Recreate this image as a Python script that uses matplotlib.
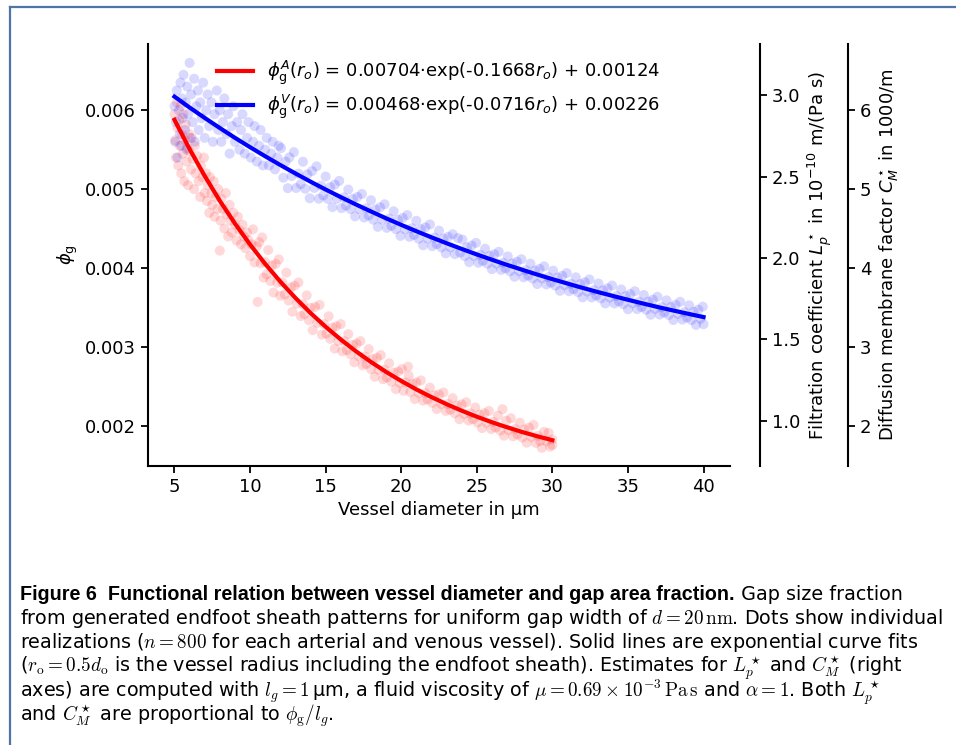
import matplotlib
matplotlib.use("Agg")
import matplotlib.pyplot as plt
from matplotlib.lines import Line2D
import numpy as np

# fitted curves
fit_a_d = list(range(5, 31))
fit_a_phi = [0.005879, 0.005508, 0.005167, 0.004852, 0.004564, 0.004298, 0.004053,
             0.003828, 0.003621, 0.003430, 0.003255, 0.003094, 0.002945, 0.002809,
             0.002683, 0.002568, 0.002461, 0.002364, 0.002274, 0.002191, 0.002115,
             0.002045, 0.001981, 0.001921, 0.001867, 0.001817]
fit_v_d = list(range(5, 41))
fit_v_phi = [0.006173, 0.006035, 0.005903, 0.005775, 0.005651, 0.005532, 0.005417,
             0.005306, 0.005199, 0.005095, 0.004995, 0.004899, 0.004806, 0.004717,
             0.004630, 0.004547, 0.004467, 0.004389, 0.004314, 0.004242, 0.004172,
             0.004105, 0.004040, 0.003978, 0.003917, 0.003859, 0.003803, 0.003748,
             0.003696, 0.003646, 0.003597, 0.003550, 0.003504, 0.003461, 0.003419,
             0.003378]

# individual realizations (approximate, read from the dot clouds); phi in units of 1e-6
art_d = [5.0, 5.05, 5.1, 5.15, 5.2, 5.25, 5.3, 5.35, 5.4, 5.45,
         5.5, 5.55, 5.6, 5.65, 5.7, 5.75, 5.8, 5.85, 5.9, 5.95,
         6.0, 6.1, 6.15, 6.2, 6.3, 6.35, 6.4, 6.5, 6.6, 6.7,
         6.75, 6.85, 6.95, 7.0, 7.1, 7.15, 7.2, 7.3, 7.35, 7.45,
         7.5, 7.6, 7.65, 7.75, 7.85, 7.9, 8.0, 8.05, 8.1, 8.2,
         8.3, 8.4, 8.45, 8.55, 8.65, 8.7, 8.8, 8.9, 9.0, 9.1,
         9.2, 9.3, 9.4, 9.5, 9.6, 9.7, 9.8, 9.9, 10.0, 10.1,
         10.2, 10.3, 10.45, 10.5, 10.6, 10.7, 10.8, 10.9, 11.0, 11.1,
         11.2, 11.35, 11.45, 11.55, 11.7, 11.8, 11.9, 12.0, 12.15, 12.3,
         12.4, 12.55, 12.7, 12.8, 12.95, 13.1, 13.2, 13.35, 13.5, 13.6,
         13.75, 13.9, 14.0, 14.15, 14.3, 14.45, 14.6, 14.75, 14.9, 15.05,
         15.2, 15.3, 15.45, 15.6, 15.7, 15.85, 16.0, 16.1, 16.25, 16.4,
         16.5, 16.65, 16.8, 16.9, 17.05, 17.2, 17.3, 17.45, 17.6, 17.7,
         17.85, 18.0, 18.1, 18.25, 18.4, 18.5, 18.65, 18.8, 18.9, 19.05,
         19.2, 19.35, 19.5, 19.65, 19.8, 19.9, 20.05, 20.15, 20.3, 20.45,
         20.5, 20.6, 20.75, 20.9, 21.0, 21.15, 21.3, 21.45, 21.6, 21.75,
         21.9, 22.05, 22.2, 22.35, 22.5, 22.65, 22.8, 22.95, 23.1, 23.25,
         23.4, 23.55, 23.7, 23.85, 24.0, 24.15, 24.3, 24.45, 24.6, 24.75,
         24.9, 25.05, 25.2, 25.35, 25.5, 25.65, 25.8, 25.95, 26.1, 26.25,
         26.4, 26.55, 26.7, 26.8, 26.95, 27.1, 27.25, 27.4, 27.55, 27.7,
         27.85, 28.0, 28.15, 28.3, 28.45, 28.6, 28.75, 28.9, 29.05, 29.2,
         29.3, 29.45, 29.6, 29.75, 29.85, 30.0, 30.0]
art_phi_e6 = [5950, 5620, 5400, 6100, 5780, 5300, 5880, 5550, 6050, 5200,
              5700, 5450, 5950, 5100, 5620, 5820, 5350, 5520, 5050, 5700,
              5480, 5250, 5650, 5380, 5000, 5550, 5200, 5420, 5100, 4900,
              5300, 5150, 5400, 4950, 5200, 4850, 5050, 4700, 5150, 4950,
              4800, 5100, 4650, 4900, 4750, 5000, 4220, 4600, 4880, 4750,
              4500, 4950, 4680, 4400, 4800, 4600, 4450, 4700, 4550, 4350,
              4650, 4480, 4300, 4550, 4400, 4250, 4450, 4350, 4150, 4300,
              4491, 4070, 4275, 3570, 4327, 4060, 4388, 3879, 4075, 3921,
              4228, 3835, 4032, 3690, 4053, 3813, 4110, 3648, 3817, 3666,
              3941, 3587, 3754, 3446, 3775, 3548, 3817, 3391, 3541, 3414,
              3653, 3337, 3494, 3212, 3506, 3304, 3533, 3155, 3289, 3167,
              3388, 3102, 3243, 2979, 3262, 3073, 3289, 2944, 3072, 2959,
              3162, 2905, 3026, 2804, 3042, 2878, 3073, 2766, 2876, 2784,
              2972, 2718, 2848, 2621, 2862, 2707, 2896, 2591, 2709, 2612,
              2792, 2559, 2674, 2465, 2687, 2544, 2719, 2444, 2548, 2750,
              2634, 2426, 2531, 2339, 2549, 2413, 2575, 2318, 2414, 2333,
              2484, 2290, 2386, 2212, 2398, 2275, 2422, 2188, 2276, 2203,
              2350, 2158, 2256, 2083, 2271, 2149, 2298, 2066, 2155, 2083,
              2232, 2041, 2141, 1970, 2159, 2038, 2188, 1958, 2048, 1978,
              2128, 1939, 2210, 1874, 2064, 1945, 2096, 1867, 1958, 1889,
              2040, 1851, 1953, 1785, 1977, 1859, 2011, 1783, 1874, 1806,
              1720, 1923, 1807, 1910, 1736, 1827, 1757]

ven_d = [5.0, 5.05, 5.1, 5.15, 5.2, 5.3, 5.35, 5.4, 5.45, 5.5,
         5.55, 5.6, 5.7, 5.75, 5.8, 5.85, 5.9, 6.0, 6.05, 6.1,
         6.2, 6.3, 6.35, 6.45, 6.55, 6.6, 6.7, 6.8, 6.9, 7.0,
         7.1, 7.2, 7.3, 7.45, 7.55, 7.65, 7.8, 7.9, 8.0, 8.1,
         8.2, 8.3, 8.45, 8.55, 8.65, 8.8, 8.9, 9.0, 9.15, 9.3,
         9.4, 9.5, 9.65, 9.8, 9.9, 10.05, 10.2, 10.3, 10.45, 10.6,
         10.7, 10.85, 11.0, 11.1, 11.25, 11.4, 11.5, 11.65, 11.8, 11.9,
         12.05, 12.2, 12.35, 12.5, 12.6, 12.75, 12.9, 13.05, 13.2, 13.35,
         13.5, 13.65, 13.8, 13.95, 14.1, 14.25, 14.4, 14.55, 14.7, 14.85,
         15.0, 15.15, 15.3, 15.45, 15.6, 15.75, 15.9, 16.05, 16.2, 16.35,
         16.5, 16.65, 16.8, 16.95, 17.1, 17.25, 17.4, 17.55, 17.7, 17.85,
         18.0, 18.15, 18.3, 18.45, 18.6, 18.75, 18.9, 19.05, 19.2, 19.35,
         19.5, 19.65, 19.8, 19.95, 20.1, 20.25, 20.4, 20.55, 20.7, 20.85,
         21.0, 21.15, 21.3, 21.45, 21.6, 21.75, 21.9, 22.05, 22.2, 22.35,
         22.5, 22.65, 22.8, 22.95, 23.1, 23.25, 23.4, 23.55, 23.75, 23.9,
         24.05, 24.2, 24.35, 24.5, 24.65, 24.8, 24.95, 25.1, 25.25, 25.4,
         25.55, 25.7, 25.85, 26.0, 26.15, 26.3, 26.45, 26.6, 26.75, 26.9,
         27.05, 27.2, 27.35, 27.5, 27.65, 27.8, 27.95, 28.1, 28.25, 28.4,
         28.55, 28.7, 28.85, 29.0, 29.15, 29.3, 29.45, 29.6, 29.75, 29.9,
         30.05, 30.2, 30.35, 30.5, 30.65, 30.8, 30.95, 31.1, 31.25, 31.4,
         31.55, 31.7, 31.85, 32.0, 32.15, 32.3, 32.45, 32.6, 32.75, 32.9,
         33.05, 33.2, 33.35, 33.5, 33.65, 33.8, 33.95, 34.1, 34.25, 34.4,
         34.55, 34.7, 34.85, 35.0, 35.15, 35.3, 35.45, 35.6, 35.75, 35.9,
         36.05, 36.2, 36.35, 36.5, 36.65, 36.8, 36.95, 37.1, 37.25, 37.4,
         37.55, 37.7, 37.85, 38.0, 38.15, 38.3, 38.45, 38.6, 38.75, 38.9,
         39.05, 39.2, 39.35, 39.5, 39.65, 39.8, 39.95, 40.0]
ven_phi_e6 = [6050, 5600, 5850, 6250, 5400, 6000, 5700, 6350, 5550, 6150,
              5900, 6450, 5750, 6100, 5500, 6300, 5950, 6600, 5650, 6200,
              5850, 6400, 5600, 6050, 6250, 5750, 6100, 5900, 6350, 5650,
              6000, 6200, 5800, 6100, 5600, 5950, 6250, 5750, 6000, 5600,
              5850, 6150, 5700, 5950, 5450, 5800, 6050, 5600, 5850, 5500,
              5750, 5950, 5450, 5650, 5850, 5400, 5600, 5800, 5350, 5550,
              5750, 5300, 5500, 5650, 5300, 5450, 5600, 5250, 5400, 5550,
              5521, 5145, 5349, 5012, 5402, 5166, 5470, 5014, 5198, 5063,
              5347, 5005, 5188, 4884, 5229, 5016, 5289, 4878, 5043, 4920,
              5160, 4876, 5026, 4772, 5057, 4878, 5104, 4759, 4895, 4791,
              4995, 4747, 4876, 4655, 4901, 4745, 4939, 4640, 4757, 4666,
              4860, 4613, 4743, 4522, 4769, 4613, 4808, 4509, 4626, 4535,
              4720, 4492, 4611, 4407, 4635, 4491, 4671, 4395, 4503, 4419,
              4599, 4371, 4492, 4288, 4516, 4373, 4553, 4277, 4386, 4303,
              4473, 4263, 4373, 4186, 4395, 4263, 4428, 4176, 4380, 4195,
              4360, 4151, 4262, 4075, 4285, 4153, 4319, 4066, 4166, 4090,
              4245, 4055, 4155, 3985, 4175, 4055, 4205, 3976, 4066, 3996,
              4147, 3958, 4058, 3889, 4080, 3960, 4111, 3882, 3973, 3904,
              4055, 3866, 3967, 3797, 3989, 3870, 4021, 3792, 3884, 3815,
              3966, 3778, 3879, 3711, 3902, 3784, 3936, 3707, 3799, 3731,
              3882, 3694, 3796, 3628, 3820, 3702, 3855, 3627, 3719, 3651,
              3803, 3616, 3718, 3551, 3743, 3626, 3778, 3551, 3644, 3576,
              3729, 3542, 3644, 3477, 3670, 3553, 3706, 3479, 3572, 3505,
              3658, 3471, 3574, 3407, 3600, 3483, 3636, 3410, 3503, 3437,
              3590, 3404, 3507, 3341, 3535, 3418, 3572, 3346, 3440, 3373,
              3527, 3341, 3445, 3279, 3472, 3356, 3510, 3288]

label_a = r'$\phi_\mathrm{g}^A(r_o)$ = 0.00704·exp(-0.1668$r_o$) + 0.00124'
label_v = r'$\phi_\mathrm{g}^V(r_o)$ = 0.00468·exp(-0.0716$r_o$) + 0.00226'

lp_scale = 484.7    # L_p* (1e-10 m/(Pa s)) per unit phi_g
cm_scale = 1000.0   # C_M* (1000/m) per unit phi_g

fig = plt.figure(figsize=(9.56, 7.45), dpi=100)
ax = fig.add_axes([148 / 956, 1 - 466 / 745, 582 / 956, 422 / 745])

ax.scatter(art_d, np.array(art_phi_e6) * 1e-6, s=52, color='red', alpha=0.15,
           edgecolors='none')
ax.scatter(ven_d, np.array(ven_phi_e6) * 1e-6, s=52, color='blue', alpha=0.15,
           edgecolors='none')
ax.plot(fit_a_d, fit_a_phi, color='red', lw=3, label=label_a)
ax.plot(fit_v_d, fit_v_phi, color='blue', lw=3, label=label_v)

ylo, yhi = 0.00149, 0.00684
ax.set_xlim(3.25, 41.75)
ax.set_ylim(ylo, yhi)
ax.set_xticks([5, 10, 15, 20, 25, 30, 35, 40])
ax.set_yticks([0.002, 0.003, 0.004, 0.005, 0.006])
ax.set_xlabel('Vessel diameter in µm', fontsize=13, labelpad=4)
ax.set_ylabel(r'$\phi_\mathrm{g}$', fontsize=13, labelpad=4)
ax.tick_params(labelsize=13, width=1.3, length=5)
for s in ['top', 'right']:
    ax.spines[s].set_visible(False)
for s in ['left', 'bottom']:
    ax.spines[s].set_linewidth(1.5)

ax.legend(loc='upper center', bbox_to_anchor=(0.499, 1.003), frameon=False,
          fontsize=13, handlelength=2.0, labelspacing=0.3)

# right axes: filtration coefficient and diffusion membrane factor
ax2 = ax.twinx()
ax2.set_ylim(ylo * lp_scale, yhi * lp_scale)
ax2.set_yticks([1.0, 1.5, 2.0, 2.5, 3.0])
ax2.spines['right'].set_position(('outward', 21.6))
ax2.set_ylabel(r'Filtration coefficient $L_p^\star$ in $10^{-10}$ m/(Pa s)', fontsize=13)

ax3 = ax.twinx()
ax3.set_ylim(ylo * cm_scale, yhi * cm_scale)
ax3.set_yticks([2, 3, 4, 5, 6])
ax3.spines['right'].set_position(('outward', 85))
ax3.set_ylabel(r'Diffusion membrane factor $C_M^\star$ in 1000/m', fontsize=13)

for a in (ax2, ax3):
    for s in ['top', 'left', 'bottom']:
        a.spines[s].set_visible(False)
    a.spines['right'].set_linewidth(1.5)
    a.tick_params(labelsize=13, width=1.3, length=5)

# page frame
frame_col = '#4f74a8'
fig.add_artist(Line2D([9.5 / 956, 1], [1 - 6.5 / 745, 1 - 6.5 / 745], color=frame_col, lw=1.6))
fig.add_artist(Line2D([9.5 / 956, 9.5 / 956], [0, 1 - 6.5 / 745], color=frame_col, lw=1.6))

# caption
cap_size = 13.8
x0 = 20 / 956
baselines = [600, 624, 648, 672, 697, 721]
cap_lines = [
    r'from generated endfoot sheath patterns for uniform gap width of $d = 20\,\mathrm{nm}$. Dots show individual',
    r'realizations ($n = 800$ for each arterial and venous vessel). Solid lines are exponential curve fits',
    r'($r_\mathrm{o} = 0.5d_\mathrm{o}$ is the vessel radius including the endfoot sheath). Estimates for $L_p^\star$ and $C_M^\star$ (right',
    r'axes) are computed with $l_g = 1\,$µm, a fluid viscosity of $\mu = 0.69 \times 10^{-3}\,\mathrm{Pa\,s}$ and $\alpha = 1$. Both $L_p^\star$',
    r'and $C_M^\star$ are proportional to $\phi_\mathrm{g}/l_g$.',
]
bold = fig.text(x0, 1 - baselines[0] / 745,
                'Figure 6  Functional relation between vessel diameter and gap area fraction.',
                family=['Liberation Sans', 'DejaVu Sans'], fontsize=14.2,
                fontweight='bold', va='baseline')
renderer = fig.canvas.get_renderer()
bb = bold.get_window_extent(renderer=renderer)
fig.text(bb.x1 / fig.bbox.width, 1 - baselines[0] / 745, ' Gap size fraction',
         family='DejaVu Sans', fontsize=cap_size, va='baseline')
for yb, line in zip(baselines[1:], cap_lines):
    fig.text(x0, 1 - yb / 745, line, family='DejaVu Sans', fontsize=cap_size,
             va='baseline', math_fontfamily='cm')

fig.savefig('out.png', dpi=100)
